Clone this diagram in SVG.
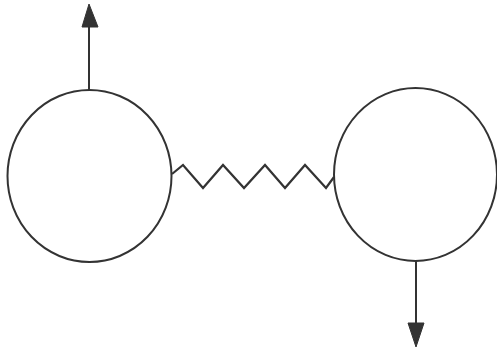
<svg xmlns="http://www.w3.org/2000/svg" width="497" height="349" viewBox="0 0 497 349">
<style>
.n{fill:none;stroke:#333;stroke-width:2}
.c{fill:none;stroke:#333;stroke-width:2.2;stroke-linejoin:miter}
.a{fill:#333;stroke:#333;stroke-width:1;stroke-linejoin:round}
</style>
<rect width="497" height="349" fill="#fff"/>
<g id="left-node">
<ellipse class="n" cx="89.5" cy="176" rx="82" ry="86"/>
</g>
<g id="right-node">
<ellipse class="n" cx="415.5" cy="174.5" rx="81.5" ry="86.5"/>
</g>
<g id="connectors">
<polyline class="c" points="172,174 183,165 203,188 223,165 244,188 265,165 285,188 305,165 326,188 334,177"/>
<line class="n" x1="89" y1="90" x2="89" y2="26"/>
<polygon class="a" points="89,4 82,27 98,27"/>
<line class="n" x1="416" y1="261" x2="416" y2="324"/>
<polygon class="a" points="416,347 408,323 424,323"/>
</g>
</svg>
